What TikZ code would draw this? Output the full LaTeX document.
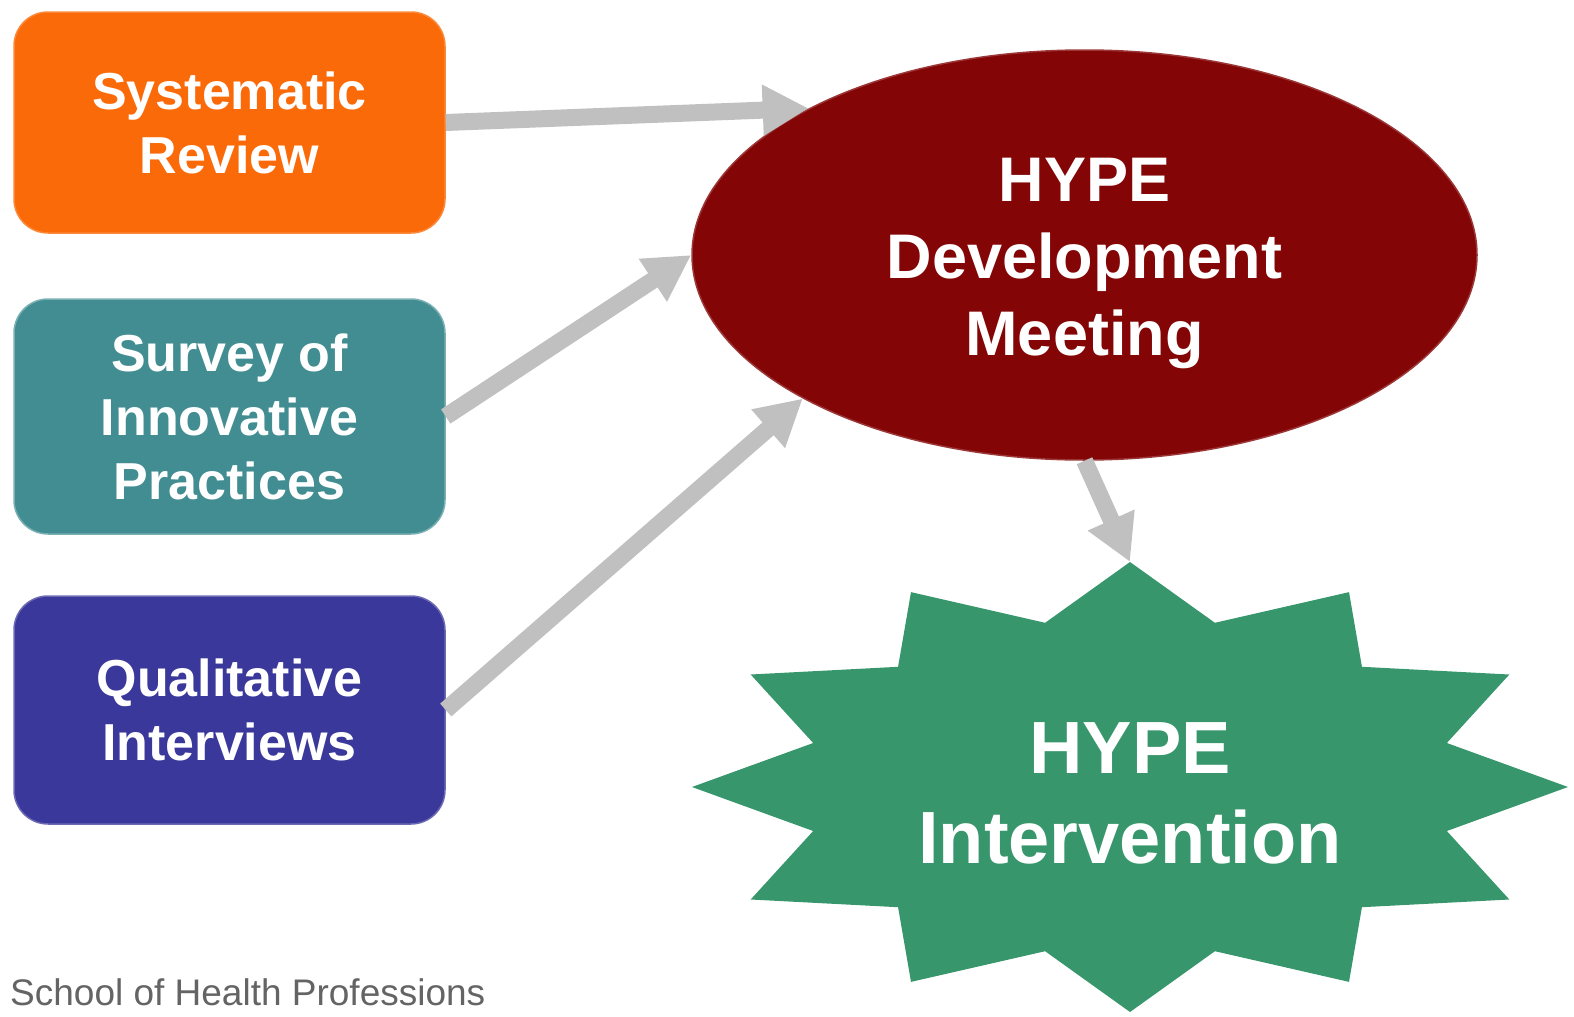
\documentclass[tikz,border=0pt]{standalone}
\usepackage{fontspec}
\setmainfont{Liberation Sans}
\usetikzlibrary{arrows.meta,shapes.geometric}
\definecolor{srcol}{HTML}{FB6A08}
\definecolor{svcol}{HTML}{418D92}
\definecolor{qicol}{HTML}{3A389A}
\definecolor{hdcol}{HTML}{830506}
\definecolor{sicol}{HTML}{37966B}
\definecolor{arrcol}{HTML}{C0C0C0}
\definecolor{footcol}{HTML}{646464}
\tikzset{
  srcbox/.style={rectangle, rounded corners=34pt, minimum width=431pt, inner sep=0pt,
    text=white, align=center, font=\bfseries\fontsize{52}{64}\selectfont},
  flowarrow/.style={draw=arrcol, line width=17pt, -{Triangle[width=48pt,length=46pt]}},
}
\begin{document}
\begin{tikzpicture}[x=1pt,y=-1pt]
\useasboundingbox (0,0) rectangle (1574,1017);
% source boxes
\node[srcbox, fill=srcol, draw=srcol!80!white, line width=1.5pt, minimum height=221pt] (sr) at (229.5,122.5) {Systematic\\Review};
\node[srcbox, fill=svcol, draw=svcol!70!white, line width=1.5pt, minimum height=235pt] (sv) at (229.5,416.5) {Survey of\\Innovative\\Practices};
\node[srcbox, fill=qicol, draw=qicol!75!white, line width=1.5pt, minimum height=228pt] (qi) at (229.5,710) {Qualitative\\Interviews};
% development meeting
\node[ellipse, fill=hdcol, draw=hdcol!80!white, line width=1.5pt, minimum width=785pt, minimum height=410pt, inner sep=0pt] (hd) at (1084.5,255) {};
\node[text=white, align=center, font=\bfseries\fontsize{63}{77}\selectfont] (hdtext) at (1084.5,263) {HYPE\\Development\\Meeting};
% intervention star
\begin{scope}[shift={(1130,787)}]
\fill[sicol] (90:438 and 225)
  \foreach \i [evaluate=\i as \a using 90+30*\i, evaluate=\i as \b using 75+30*\i] in {1,...,12} { -- (\b:328 and 170) -- (\a:438 and 225) } -- cycle;
\end{scope}
\coordinate (startop) at (1130,562);
\node[text=white, align=center, font=\bfseries\fontsize{74}{90}\selectfont] (si) at (1130,793) {HYPE\\Intervention};
% connectors
\draw[flowarrow] (sr.east) -- (hd.152);
\draw[flowarrow] (sv.east) -- (hd.180);
\draw[flowarrow] (qi.east) -- (hd.207.5);
\draw[flowarrow] (hd.south) -- (startop);
% footer
\node[anchor=base west, inner sep=0pt, text=footcol, font=\fontsize{37}{44}\selectfont] (foot) at (10,1005) {School of Health Professions};
\end{tikzpicture}
\end{document}
